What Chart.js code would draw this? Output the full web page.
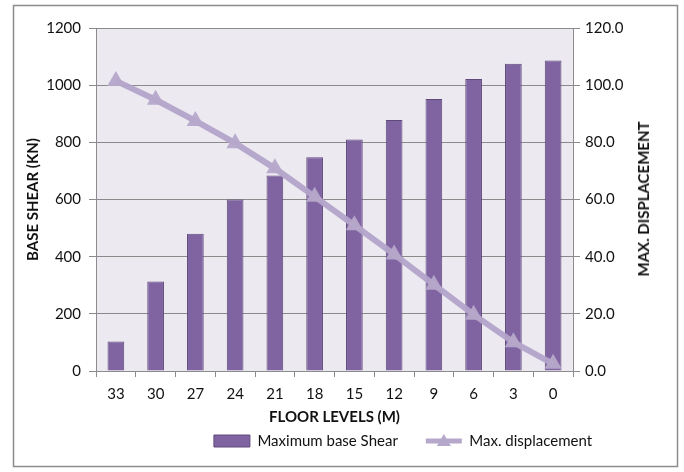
<!DOCTYPE html>
<html>
<head>
<meta charset="utf-8">
<script src="https://cdn.jsdelivr.net/npm/chart.js@4"></script>
<style>
html,body{margin:0;padding:0;background:#fff;}
#wrap{position:relative;width:684px;height:472px;}
#rtitle{position:absolute;left:643px;top:199px;transform:translate(-50%,-50%) rotate(-90deg);
  font:bold 15px Lato, "Open Sans", sans-serif;color:#111;white-space:nowrap;}
</style>
</head>
<body>
<div id="wrap"><canvas id="c" width="684" height="472"></canvas><div id="rtitle">MAX. DISPLACEMENT</div></div>
<script>
const floorLevels = ['33','30','27','24','21','18','15','12','9','6','3','0'];
const baseShear = [103, 313, 480, 600, 684, 748, 810, 878, 952, 1022, 1075, 1086];
const maxDisplacement = [101.5, 94.9, 87.5, 79.7, 70.9, 61.0, 51.0, 40.8, 30.2, 19.7, 10.1, 2.5];
const shearTicks = [0, 200, 400, 600, 800, 1000, 1200];
const dispTicks = [0, 20, 40, 60, 80, 100, 120];

const FONT = 'Lato, "Open Sans", sans-serif';
const LEG_PAD = 28;

const bgPlugin = {
  id: 'bg',
  afterLayout(chart) {
    const lg = chart.legend;
    if (!lg) return;
    const h = lg.height;
    lg.top = 441 - LEG_PAD - 7.5;
    lg.bottom = lg.top + h;
    const shift = 57;
    lg.left += shift; lg.right += shift;
  },
  beforeDraw(chart) {
    const {ctx, chartArea: a} = chart;
    ctx.save();
    ctx.fillStyle = '#ffffff';
    ctx.fillRect(0, 0, chart.width, chart.height);
    ctx.strokeStyle = '#8c8c8c';
    ctx.lineWidth = 1.5;
    ctx.strokeRect(13.5, 5.5, 664, 461);
    ctx.fillStyle = '#ECE9F0';
    ctx.fillRect(a.left, a.top, a.right - a.left, a.bottom - a.top);
    ctx.restore();
  },
  afterDraw(chart) {
    const lg = chart.legend;
    if (!lg || !lg.legendHitBoxes || lg.legendHitBoxes.length < 2) return;
    const hb = lg.legendHitBoxes[1];
    const ctx = chart.ctx;
    const cx = hb.left + 18, cy = hb.top + hb.height / 2;
    ctx.save();
    ctx.fillStyle = '#B6A8CA';
    ctx.beginPath();
    ctx.moveTo(cx, cy - 7);
    ctx.lineTo(cx + 7, cy + 5);
    ctx.lineTo(cx - 7, cy + 5);
    ctx.closePath();
    ctx.fill();
    ctx.restore();
  }
};

const chart = new Chart(document.getElementById('c'), {
  data: {
    labels: floorLevels,
    datasets: [
      {
        type: 'line',
        label: 'Max. displacement',
        data: maxDisplacement,
        yAxisID: 'y1',
        borderColor: 'rgba(179,164,202,0.95)',
        backgroundColor: 'rgba(182,168,202,0.95)',
        borderWidth: 6,
        pointStyle: 'triangle',
        pointRadius: 10,
        pointHoverRadius: 10,
        pointBorderWidth: 0,
        pointBackgroundColor: 'rgba(182,168,202,0.95)',
        tension: 0,
        order: 0
      },
      {
        type: 'bar',
        label: 'Maximum base Shear',
        data: baseShear,
        yAxisID: 'y',
        backgroundColor: '#8064A2',
        borderColor: '#5E4A7A',
        borderWidth: 1,
        barPercentage: 0.42,
        categoryPercentage: 1.0,
        order: 1
      }
    ]
  },
  options: {
    responsive: false,
    animation: false,
    layout: { padding: { left: 14, right: 6, top: 28, bottom: 0 } },
    plugins: {
      tooltip: { enabled: false },
      legend: {
        position: 'bottom',
        reverse: true,
        labels: {
          font: { family: FONT, size: 15 },
          color: '#111',
          usePointStyle: true,
          pointStyleWidth: 36,
          boxHeight: 12,
          padding: LEG_PAD,
          generateLabels(chart) {
            const items = Chart.defaults.plugins.legend.labels.generateLabels(chart);
            items.forEach(it => {
              const ds = chart.data.datasets[it.datasetIndex];
              if (ds.type === 'bar') { it.pointStyle = 'rect'; it.lineWidth = 1; it.strokeStyle = '#5E4A7A'; it.fillStyle = '#8064A2'; }
              else { it.pointStyle = 'line'; it.lineWidth = 5; it.strokeStyle = '#B6A8CA'; }
            });
            return items;
          }
        }
      }
    },
    scales: {
      x: {
        offset: true,
        afterFit(s) { s.height = 55; },
        grid: { display: true, drawOnChartArea: false, offset: true, tickLength: 6, color: '#8c8c8c' },
        border: { color: '#8c8c8c' },
        ticks: { font: { family: FONT, size: 15 }, color: '#111', padding: 8 },
        title: { display: true, text: 'FLOOR LEVELS (M)', font: { family: FONT, size: 15, weight: 'bold' }, color: '#111', padding: { top: 0, bottom: 0 } }
      },
      y: {
        position: 'left',
        min: 0, max: 1200,
        afterFit(s) { s.width = 82; },
        afterBuildTicks(s) { s.ticks = shearTicks.map(v => ({ value: v })); },
        grid: { color: '#8a8a8a', tickLength: 7, lineWidth: 1 },
        border: { color: '#8c8c8c' },
        ticks: { font: { family: FONT, size: 15 }, color: '#111', padding: 8, callback: v => String(v) },
        title: { display: true, text: 'BASE SHEAR (KN)', font: { family: FONT, size: 15, weight: 'bold' }, color: '#111', padding: { top: 10, bottom: 0 } }
      },
      y1: {
        position: 'right',
        min: 0, max: 120,
        afterFit(s) { s.width = 105; },
        afterBuildTicks(s) { s.ticks = dispTicks.map(v => ({ value: v })); },
        grid: { drawOnChartArea: false, tickLength: 7, color: '#8c8c8c' },
        border: { color: '#8c8c8c' },
        ticks: { font: { family: FONT, size: 15 }, color: '#111', padding: 5, callback: v => Number(v).toFixed(1) },
        title: { display: false }
      }
    }
  },
  plugins: [bgPlugin]
});

const lgInst = chart.legend;
if (lgInst) {
  const origFit = lgInst.fit.bind(lgInst);
  lgInst.fit = function () { origFit(); if (this.isHorizontal()) this.height = 46; };
  chart.update();
}
</script>
</body>
</html>
